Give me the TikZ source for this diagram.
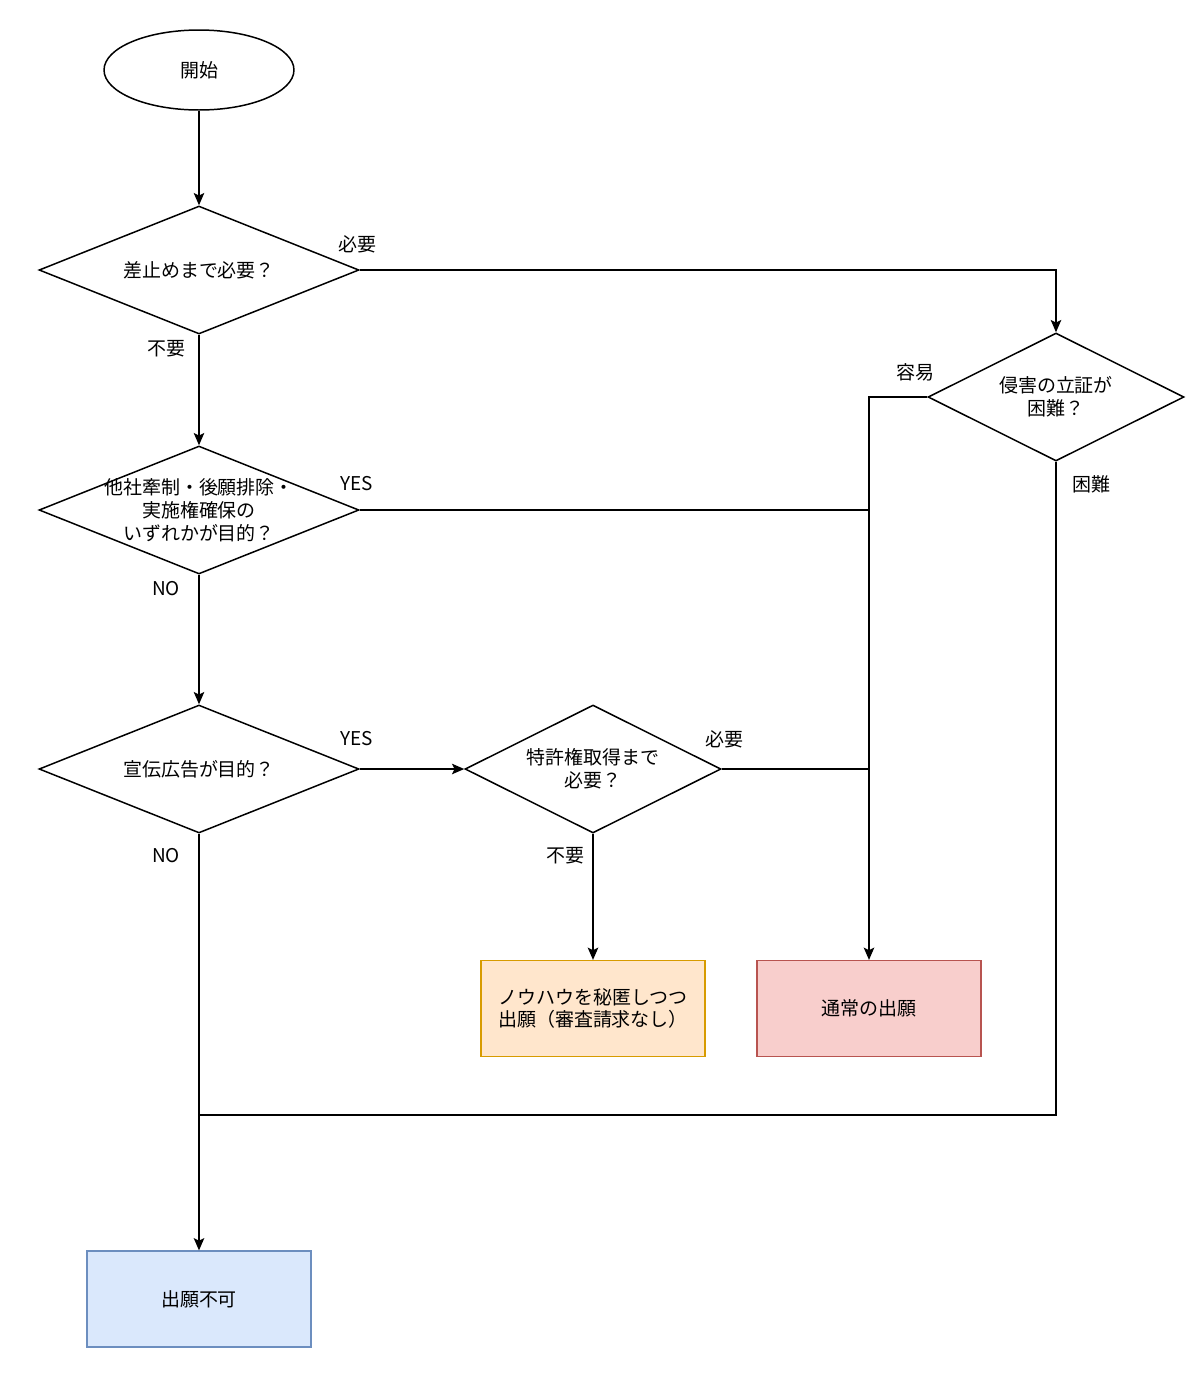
\documentclass[tikz,border=0pt]{standalone}
\usepackage{fontspec}
\setmainfont{Noto Sans CJK JP}
\usetikzlibrary{shapes.geometric,arrows.meta}
\definecolor{orfill}{HTML}{FFE6CC}
\definecolor{ordraw}{HTML}{D79B00}
\definecolor{rdfill}{HTML}{F8CECC}
\definecolor{rddraw}{HTML}{B85450}
\definecolor{blfill}{HTML}{DAE8FC}
\definecolor{bldraw}{HTML}{6C8EBF}
\begin{document}
\begin{tikzpicture}[x=0.02cm,y=-0.02cm,
  font=\fontsize{10.8}{13}\selectfont,
  line width=0.85pt,
  >={Stealth[length=7pt,width=6pt,inset=1.5pt]},
  startnode/.style={ellipse,draw,minimum width=3.8cm,minimum height=1.6cm,inner sep=0pt},
  dia/.style={diamond,draw,aspect=2.5,inner sep=0pt},
  diabig/.style={dia,minimum width=6.4cm,minimum height=2.56cm},
  diasmall/.style={dia,minimum width=5.12cm,minimum height=2.56cm},
  txt/.style={align=center,inner sep=0pt},
  endbox/.style={rectangle,draw,minimum width=4.48cm,minimum height=1.92cm,align=center,line width=0.7pt},
  lab/.style={inner sep=0pt,anchor=center}
]
\useasboundingbox (0,0) rectangle (1200,1377);

\node[startnode] (start) at (199,70) {開始};

\node[diabig] (d1) at (199,270) {};
\node[txt] (d1t) at (d1) {差止めまで必要？};

\node[diabig] (d2) at (199,510) {};
\node[txt] (d2t) at (d2) {他社牽制・後願排除・\\実施権確保の\\いずれかが目的？};

\node[diabig] (d3) at (199,769) {};
\node[txt] (d3t) at (d3) {宣伝広告が目的？};

\node[diasmall] (d4) at (593,769) {};
\node[txt] (d4t) at (d4) {特許権取得まで\\必要？};

\node[diasmall] (d5) at (1056,397) {};
\node[txt] (d5t) at (d5) {侵害の立証が\\困難？};

\node[endbox,fill=orfill,draw=ordraw] (knowhow) at (593,1008.5) {ノウハウを秘匿しつつ\\出願（審査請求なし）};
\node[endbox,fill=rdfill,draw=rddraw] (normal) at (869,1008.5) {通常の出願};
\node[endbox,fill=blfill,draw=bldraw] (ng) at (199,1299) {出願不可};

\coordinate (j1) at (869,510);
\coordinate (j2) at (869,769);
\coordinate (c3) at (199,1115);

% connectors
\draw[->] (start) -- (d1);
\draw[->] (d1.east) -| (d5.north);
\draw[->] (d1) -- (d2);
\draw (d2.east) -- (j1);
\draw[->] (d2) -- (d3);
\draw[->] (d3) -- (d4);
\draw[->] (d3.south) -- (ng.north);
\draw (d4.east) -- (j2);
\draw[->] (d4) -- (knowhow);
\draw[->] (d5.west) -| (normal.north);
\draw (d5.south) |- (c3);

% labels
\node[lab] (l1) at (357,244) {必要};
\node[lab] (l2) at (166,349) {不要};
\node[lab] (l3) at (357,484) {YES};
\node[lab] (l4) at (166,589) {NO};
\node[lab] (l5) at (357,739) {YES};
\node[lab] (l6) at (166,856) {NO};
\node[lab] (l7) at (724,739) {必要};
\node[lab] (l8) at (565,856) {不要};
\node[lab] (l9) at (915,372) {容易};
\node[lab] (l10) at (1091,484) {困難};
\end{tikzpicture}
\end{document}
